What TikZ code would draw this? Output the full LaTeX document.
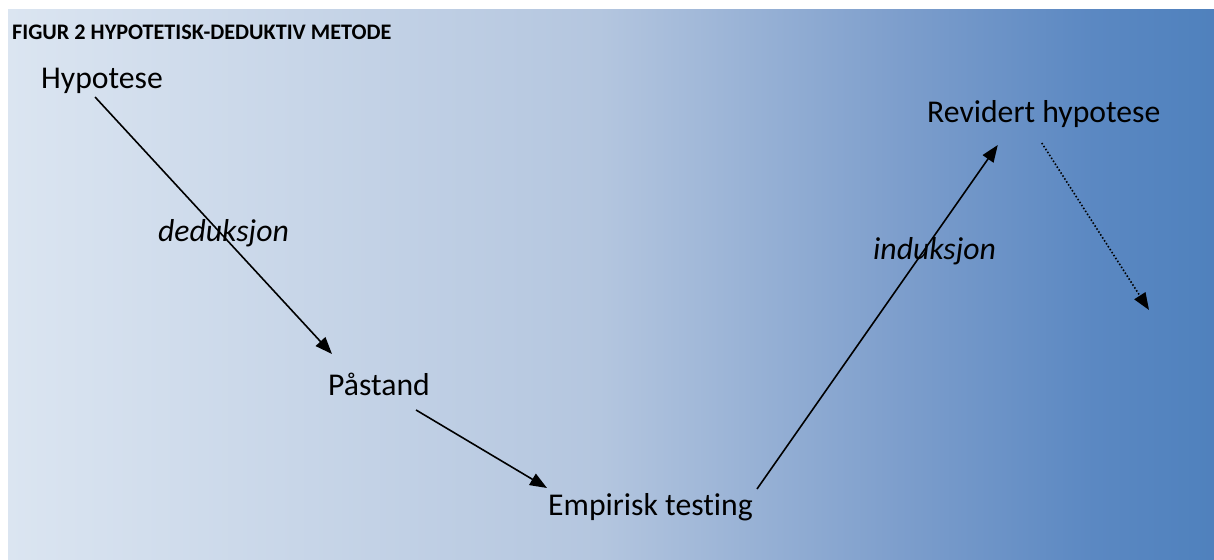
\documentclass[tikz,border=0pt]{standalone}
\usepackage{fontspec}
\setmainfont{Carlito}[Ligatures={NoCommon}]
\usetikzlibrary{arrows.meta}
\definecolor{fadeA}{HTML}{DBE5F1}
\definecolor{fadeB}{HTML}{B4C6DF}
\definecolor{fadeC}{HTML}{7D9ECC}
\definecolor{fadeD}{HTML}{5B88C2}
\definecolor{fadeE}{HTML}{4F81BD}
% the path is fitted to the middle half (25bp to 75bp) of the shading
\pgfdeclarehorizontalshading{bluefade}{100bp}{color(0bp)=(fadeA); color(25bp)=(fadeA); color(49.5bp)=(fadeB); color(62bp)=(fadeC); color(70bp)=(fadeD); color(75bp)=(fadeE); color(100bp)=(fadeE)}
\tikzset{
	stage/.style={anchor=base west, inner sep=0pt, font=\fontsize{31.7}{38}\selectfont},
	mode/.style={stage, font=\fontsize{31.7}{38}\selectfont\itshape},
	link/.style={line width=1.6pt, -{Triangle[length=17pt,width=13pt]}},
}

\begin{document}
\begin{tikzpicture}[x=1pt,y=-1pt]
		%%%%% START %%%%%
		\useasboundingbox (0,0) rectangle (1214,559);
		\shade[shading=bluefade] (8,10) rectangle (1214,559);
		
		\node[anchor=base west, inner sep=0pt, font=\fontsize{22.2}{26}\selectfont\bfseries] (title) at (12,40) {FIGUR 2 HYPOTETISK-DEDUKTIV METODE};
		
		\node[stage] (hyp) at (41,89) {Hypotese};
		\node[stage] (pas) at (328,395) {Påstand};
		\node[stage] (emp) at (548,515) {Empirisk testing};
		\node[stage] (rev) at (927,123) {Revidert hypotese};
		\coordinate (next) at (1149,310);
		
		\node[mode] (ded) at (158,241) {deduksjon};
		\node[mode] (ind) at (873,259) {induksjon};
		
		\draw[link] ([shift={(-7pt,-8pt)}]hyp.base) -- ([shift={(4pt,41pt)}]pas.base west);
		\draw[link] ([shift={(-14pt,-15pt)}]pas.base east) -- ([shift={(-1pt,27pt)}]emp.base west);
		\draw[link] ([shift={(4pt,26pt)}]emp.base east) -- ([shift={(-46pt,-22pt)}]rev.base);
		\draw[link, dash pattern=on 1.5pt off 2pt] ([shift={(-2pt,-20pt)}]rev.base) -- (next);
		%%%%% END %%%%%
	\end{tikzpicture}
\end{document}
